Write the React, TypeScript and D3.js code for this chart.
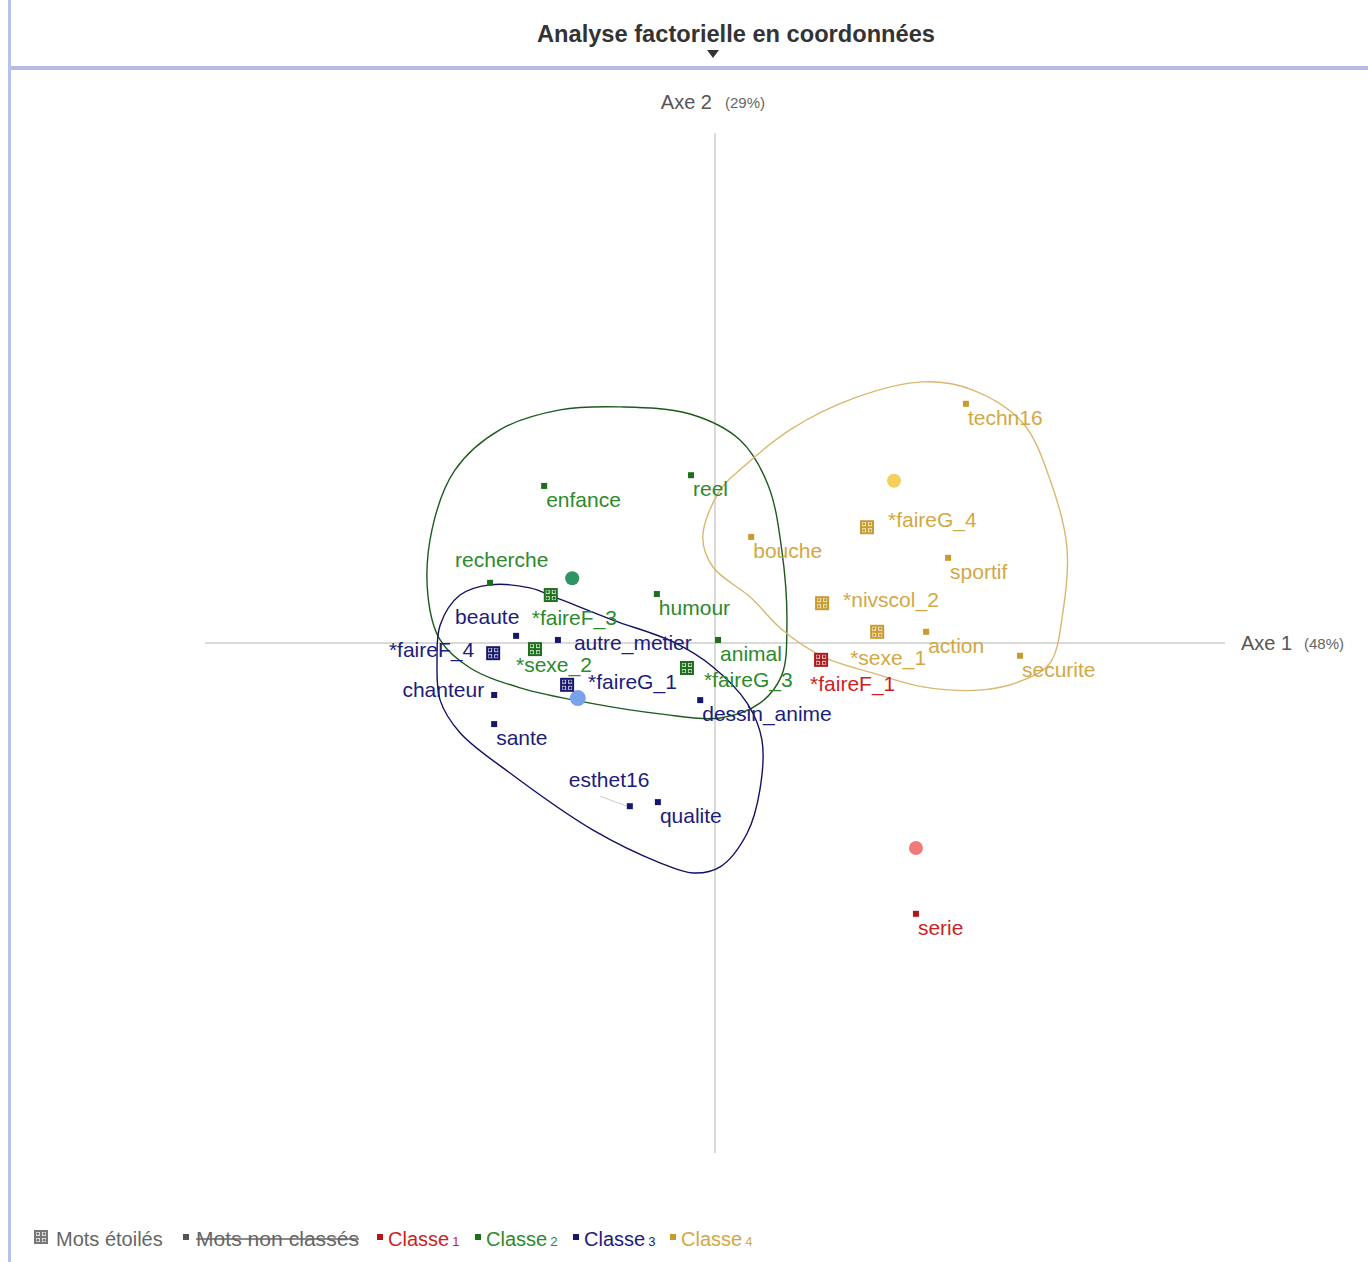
import React from 'react'
import * as d3 from 'd3'

const width = 1368
const height = 1262

const title = 'Analyse factorielle en coordonnées'
const axisNames = ['Axe 1', 'Axe 2']
const axisShares = ['(48%)', '(29%)']

// factor coordinates: [label, axe1, axe2, starred]
type Pt = [string, number, number, boolean]

const classe1: Pt[] = [
  ['*faireF_1', 0.208, -0.033, true],
  ['serie', 0.394, -0.531, false]
]

const classe2: Pt[] = [
  ['enfance', -0.335, 0.308, false],
  ['reel', -0.047, 0.329, false],
  ['recherche', -0.441, 0.118, false],
  ['humour', -0.114, 0.096, false],
  ['animal', 0.006, 0.006, false],
  ['*faireF_3', -0.322, 0.094, true],
  ['*sexe_2', -0.353, -0.012, true],
  ['*faireG_3', -0.055, -0.049, true]
]

const classe3: Pt[] = [
  ['beaute', -0.39, 0.014, false],
  ['autre_metier', -0.308, 0.006, false],
  ['*faireF_4', -0.435, -0.02, true],
  ['*faireG_1', -0.29, -0.082, true],
  ['chanteur', -0.433, -0.102, false],
  ['sante', -0.433, -0.159, false],
  ['dessin_anime', -0.029, -0.112, false],
  ['esthet16', -0.167, -0.32, false],
  ['qualite', -0.112, -0.312, false]
]

const classe4: Pt[] = [
  ['techn16', 0.492, 0.469, false],
  ['bouche', 0.071, 0.208, false],
  ['*faireG_4', 0.298, 0.227, true],
  ['sportif', 0.457, 0.167, false],
  ['*nivscol_2', 0.21, 0.078, true],
  ['*sexe_1', 0.318, 0.022, true],
  ['action', 0.414, 0.022, false],
  ['securite', 0.598, -0.025, false]
]

// class centres
const centres: [number, number][] = [
  [0.394, -0.402],
  [-0.28, 0.127],
  [-0.269, -0.108],
  [0.351, 0.318]
]

// outlines drawn around classes 2, 3 and 4
const contour2: [number, number][] = [
  [-0.186, 0.463], [-0.049, 0.449], [0.049, 0.398], [0.104, 0.31], [0.131, 0.182],
  [0.141, 0.035], [0.131, -0.063], [0.088, -0.118], [0.01, -0.147], [-0.108, -0.139],
  [-0.245, -0.118], [-0.382, -0.088], [-0.48, -0.049], [-0.539, 0.006], [-0.563, 0.094],
  [-0.555, 0.222], [-0.51, 0.339], [-0.422, 0.418], [-0.304, 0.457]
]
const contour3: [number, number][] = [
  [-0.5, 0.094], [-0.441, 0.114], [-0.363, 0.108], [-0.314, 0.09], [-0.2, 0.045],
  [-0.082, 0.002], [-0.004, -0.047], [0.063, -0.118], [0.092, -0.19], [0.088, -0.288],
  [0.063, -0.373], [0.01, -0.439], [-0.043, -0.451], [-0.108, -0.431], [-0.239, -0.367],
  [-0.402, -0.255], [-0.5, -0.176], [-0.539, -0.112], [-0.545, -0.033], [-0.539, 0.035]
]
const contour4: [number, number][] = [
  [-0.024, 0.208], [0.01, 0.3], [0.055, 0.345], [0.147, 0.418], [0.278, 0.482],
  [0.408, 0.512], [0.506, 0.496], [0.604, 0.431], [0.657, 0.32], [0.69, 0.188],
  [0.682, 0.059], [0.657, -0.039], [0.604, -0.073], [0.525, -0.092], [0.408, -0.086],
  [0.31, -0.059], [0.212, -0.027], [0.133, 0.025], [0.069, 0.09], [-0.004, 0.149]
]

const legendLabels = ['Mots étoilés', 'Mots non classés', 'Classe']

// styling
const textColors = ['#cc1f1f', '#2c8a2c', '#1c1c7c', '#d3a843']
const markColors = ['#b01818', '#1d6e1d', '#16166e', '#c99a2c']
const contourColors = ['none', '#1e5a1e', '#121262', '#d9b870']
const centreColors = ['#f07a7a', '#2e9466', '#7aa2ea', '#f7cf5c']
const font = '"Liberation Sans", Arial, sans-serif'

// label placement relative to the mark (px): dx, dy, anchor
const placement: Record<string, [number, number, string]> = {
  recherche: [-35, -16, 'start'],
  '*faireF_3': [-19, 30, 'start'],
  '*sexe_2': [-19, 23, 'start'],
  '*faireG_3': [17, 19, 'start'],
  beaute: [-61, -12, 'start'],
  autre_metier: [16, 10, 'start'],
  '*faireF_4': [-19, 4, 'end'],
  '*faireG_1': [21, 4, 'start'],
  chanteur: [-10, 2, 'end'],
  esthet16: [-61, -19, 'start'],
  '*faireG_4': [21, 0, 'start'],
  '*nivscol_2': [21, 4, 'start'],
  '*sexe_1': [-27, 33, 'start'],
  '*faireF_1': [-11, 31, 'start']
}

const x = d3.scaleLinear().domain([-1, 1]).range([205, 1225])
const y = d3.scaleLinear().domain([-1, 1]).range([1153, 133])

const contourLine = d3
  .line<[number, number]>()
  .x(d => x(d[0]))
  .y(d => y(d[1]))
  .curve(d3.curveCatmullRomClosed.alpha(0.5))

const StarMark = ({ cx, cy, color }: { cx: number; cy: number; color: string }) => (
  <g transform={`translate(${cx - 7},${cy - 7})`}>
    <rect width={14} height={14} fill={color} />
    <rect x={2} y={2} width={10} height={10} fill="#fff" opacity={0.8} />
    <rect x={6} y={2} width={2} height={10} fill={color} />
    <rect x={2} y={6} width={10} height={2} fill={color} />
    {[[3.8, 3.8], [10.2, 3.8], [3.8, 10.2], [10.2, 10.2]].map(([a, b], i) => (
      <circle key={i} cx={a} cy={b} r={1.4} fill={color} />
    ))}
  </g>
)

const App = () => {
  const classes = [classe1, classe2, classe3, classe4]
  const contours = [null, contour2, contour3, contour4]
  const ox = x(0)
  const oy = y(0)

  return (
    <div style={{ position: 'absolute', left: 0, top: 0 }}>
      <svg width={width} height={height} style={{ display: 'block', fontFamily: font }}>
        <rect width={width} height={height} fill="#fff" />
        <rect x={8} y={0} width={3} height={height} fill="#b8c1ec" />
        <rect x={11} y={66} width={width - 11} height={4} fill="#b3bce0" />
        <text
          x={736}
          y={42}
          textAnchor="middle"
          fontSize={23}
          fontWeight="bold"
          fill="#333"
          textLength={398}
          lengthAdjust="spacingAndGlyphs"
        >
          {title}
        </text>
        <path d="M707,50 L719,50 L713,58 Z" fill="#333" />

        {/* axes */}
        <line x1={x(-1)} x2={x(1)} y1={oy} y2={oy} stroke="#b4b4b4" />
        <line x1={ox} x2={ox} y1={y(1)} y2={y(-1)} stroke="#b4b4b4" />
        <text x={ox - 3} y={109} textAnchor="end" fontSize={20} fill="#555">{axisNames[1]}</text>
        <text x={ox + 10} y={108} fontSize={15} fill="#666">{axisShares[1]}</text>
        <text x={1241} y={650} fontSize={20} fill="#555">{axisNames[0]}</text>
        <text x={1304} y={649} fontSize={15} fill="#666">{axisShares[0]}</text>

        {/* class outlines */}
        {contours.map((c, i) =>
          c ? <path key={i} d={contourLine(c) || ''} fill="none" stroke={contourColors[i]} strokeWidth={1.4} /> : null
        )}

        {/* centres */}
        {centres.map(([a, b], i) => (
          <circle key={i} cx={x(a)} cy={y(b)} r={i === 2 ? 8 : 7} fill={centreColors[i]} />
        ))}

        {/* faint leader for esthet16 */}
        <line x1={x(-0.167) - 30} y1={y(-0.32) - 10} x2={x(-0.167) - 3} y2={y(-0.32)} stroke="#ccc" />

        {/* points */}
        {classes.map((pts, ci) =>
          pts.map(([label, a, b, star]) => {
            const cx = x(a)
            const cy = y(b)
            const [dx, dy, anchor] = placement[label] || [2, 21, 'start']
            return (
              <g key={label}>
                {star ? (
                  <StarMark cx={cx} cy={cy} color={markColors[ci]} />
                ) : (
                  <rect x={cx - 3} y={cy - 3} width={6} height={6} fill={markColors[ci]} />
                )}
                <text x={cx + dx} y={cy + dy} textAnchor={anchor} fontSize={21} fill={textColors[ci]}>
                  {label}
                </text>
              </g>
            )
          })
        )}

        {/* legend */}
        <g transform="translate(0,1238)">
          <StarMark cx={41} cy={-1} color="#777" />
          <text x={56} y={8} fontSize={20} fill="#666">{legendLabels[0]}</text>
          <rect x={183} y={-4} width={6} height={6} fill="#555" />
          <text x={196} y={8} fontSize={20} fill="#666" textLength={163} lengthAdjust="spacingAndGlyphs">
            {legendLabels[1]}
          </text>
          <line x1={196} x2={359} y1={1} y2={1} stroke="#666" strokeWidth={1.5} />
          {[380, 478, 576, 673].map((lx, i) => (
            <g key={i}>
              <rect x={lx - 3} y={-4} width={6} height={6} fill={markColors[i]} />
              <text x={lx + 8} y={8} fontSize={20} fill={textColors[i]}>
                {legendLabels[2]}
                <tspan fontSize={13} dx={3}>{i + 1}</tspan>
              </text>
            </g>
          ))}
        </g>
      </svg>
    </div>
  )
}

export default App
